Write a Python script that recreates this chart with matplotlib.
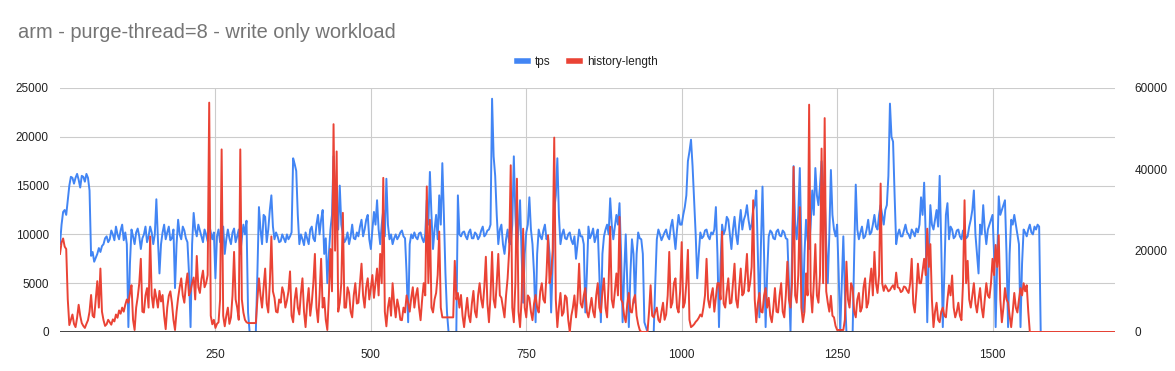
import numpy as np
import matplotlib
matplotlib.use("Agg")
from matplotlib import pyplot as plt
from matplotlib.lines import Line2D

plt.rcParams['font.family'] = ['Liberation Sans', 'DejaVu Sans']

title = "arm - purge-thread=8 - write only workload"
series_names = ["tps", "history-length"]
step = 2.5  # seconds between samples

tps = [
    9000, 11000, 12300, 12500, 12000, 13500, 15000, 15900, 15800, 15200, 15800, 16200, 15600, 14800, 16000, 15900, 15400, 16200, 15800, 14500,
    7800, 8200, 7200, 7600, 8000, 8600, 8200, 8800, 9000, 9600, 9800, 9200, 9500, 10400, 10000, 9400, 10800, 10000, 9500, 10400,
    11000, 9400, 10200, 9000, 500, 7000, 10500, 9800, 9000, 10200, 10600, 9800, 8500, 9600, 10000, 10800, 9200, 9800, 10800, 10200,
    9000, 10000, 13600, 9500, 6000, 9000, 10200, 11000, 9500, 10200, 10800, 9400, 9600, 10500, 4500, 9000, 11500, 10000, 9500, 10800,
    10400, 9600, 9200, 6000, 500, 9000, 12200, 10500, 9800, 11000, 10400, 9800, 9200, 10500, 10000, 9300, 11000, 10200, 9500, 10200,
    5500, 9800, 10500, 9200, 9500, 10800, 8000, 9500, 10500, 9600, 9000, 10200, 10600, 9200, 9800, 10500, 8000, 9600, 11000, 10000,
    11400, 2000, 0, 0, 0, 0, 0, 6000, 12800, 10500, 9000, 12000, 11800, 9200, 10500, 12500, 14000, 10800, 9500, 10200,
    9800, 9200, 9300, 10000, 9600, 9200, 10000, 9500, 9800, 10200, 17800, 17200, 16500, 12000, 9000, 10000, 9500, 8900, 10200, 9600,
    9000, 10500, 10800, 9600, 9300, 11000, 12000, 10000, 11500, 12500, 8000, 9600, 5000, 8000, 10500, 12000, 18000, 14000, 12000, 10500,
    15000, 11000, 10000, 9200, 9500, 10200, 9000, 9800, 11000, 9600, 9500, 10200, 9800, 10800, 11500, 9800, 10500, 11500, 12000, 9500,
    8500, 10500, 12300, 11000, 13500, 10500, 9000, 11000, 12500, 9800, 15700, 11000, 9500, 10000, 9000, 9600, 10000, 9500, 9800, 10200,
    10400, 9800, 9600, 6000, 1000, 9000, 10000, 9600, 10200, 9700, 9500, 10100, 10200, 9600, 9200, 10000, 13500, 11000, 16400, 12000,
    8500, 10500, 12000, 9500, 14000, 11000, 17300, 12000, 6000, 2000, 0, 0, 0, 0, 0, 0, 14000, 10000, 9800, 10200,
    10300, 9800, 9500, 10200, 10500, 9600, 9600, 10200, 10000, 9500, 9800, 10400, 10800, 9800, 10000, 10400, 10500, 11000, 23900, 18000,
    16000, 12000, 9000, 10500, 11000, 9000, 8000, 9500, 10500, 9200, 9000, 11000, 18000, 12000, 8500, 10500, 13500, 8000, 3000, 8000,
    10200, 11000, 13800, 10500, 9000, 6000, 1000, 8000, 10500, 9800, 9500, 10400, 11000, 9500, 9800, 8000, 2000, 7000, 12500, 14000,
    17800, 12000, 9000, 10000, 10500, 9600, 9500, 10000, 10200, 9400, 9000, 9800, 7500, 9000, 10500, 9800, 9800, 9000, 2000, 6000,
    10800, 9600, 10000, 10600, 9200, 9800, 10500, 6000, 1000, 8000, 9800, 10500, 11000, 10000, 13700, 11000, 9500, 10800, 12000, 11000,
    13200, 8000, 1000, 6000, 10000, 5000, 500, 6000, 9500, 8000, 3000, 8000, 10200, 9600, 9500, 8000, 1000, 500, 0, 0,
    0, 0, 0, 5000, 9500, 10500, 10000, 9400, 9800, 10200, 10500, 9800, 9500, 10800, 11500, 10000, 8500, 10500, 12000, 11000,
    11000, 12000, 12800, 14000, 17500, 18500, 19700, 17000, 13500, 10000, 5500, 8000, 10200, 9600, 9800, 10400, 10500, 9800, 9500, 10200,
    10000, 10500, 12800, 8000, 500, 7000, 11000, 10000, 10500, 11800, 11500, 10000, 8500, 10500, 11800, 10000, 9000, 11000, 12500, 10500,
    11500, 12000, 13000, 11500, 10500, 11000, 12500, 13000, 14500, 8000, 1500, 9000, 14900, 8000, 500, 6000, 9800, 10400, 10200, 9600,
    9500, 10300, 10500, 9900, 9800, 10400, 10200, 9600, 9500, 5000, 0, 8000, 17000, 11000, 9500, 12000, 16800, 9000, 2000, 8000,
    11500, 9500, 8500, 11000, 14500, 12000, 16800, 14000, 13000, 15000, 17500, 15000, 14000, 9000, 5000, 10000, 16600, 12000, 10500, 9800,
    11000, 6000, 0, 5000, 9800, 4000, 0, 0, 0, 0, 0, 8000, 15100, 10500, 9500, 10200, 10800, 9600, 9800, 10500,
    11500, 10000, 10200, 11000, 12000, 10800, 10500, 12000, 13000, 12000, 11000, 12500, 13000, 16000, 23400, 20000, 19500, 14000, 9000, 10000,
    10500, 9800, 9800, 10400, 11000, 10200, 10000, 9600, 10500, 10200, 9800, 10600, 10200, 11000, 13800, 12000, 15300, 10000, 1000, 8000,
    13000, 11000, 10500, 11500, 12500, 10800, 16000, 9000, 500, 6000, 12000, 13200, 9500, 10800, 10500, 9600, 9800, 10400, 10500, 9800,
    9500, 10400, 10200, 9600, 9800, 10800, 11500, 12500, 14500, 10000, 8000, 6000, 11000, 10000, 13000, 10500, 9000, 10500, 11000, 11500,
    12000, 8000, 500, 7000, 13900, 12000, 12500, 13000, 13500, 8000, 500, 8000, 11500, 11000, 12000, 11000, 10000, 9000, 500, 7000,
    10500, 10200, 9800, 10500, 11000, 10200, 10000, 10800, 10500, 11000, 10800, 0,
]

history_length = [
    19200, 22000, 23000, 21000, 20400, 8000, 1700, 3000, 4300, 2000, 1200, 3500, 6700, 4000, 2200, 1500, 1000, 2000, 2900, 5000,
    9100, 4000, 3600, 8000, 12500, 6000, 15600, 5000, 2900, 1500, 1900, 3000, 2400, 1800, 3100, 2600, 4300, 3500, 5300, 4500,
    6000, 5000, 6700, 8000, 7200, 9500, 11500, 3000, 500, 6000, 8600, 12000, 18000, 5000, 4800, 9000, 10800, 6000, 23500, 9000,
    6000, 10500, 8400, 6000, 10100, 7500, 9100, 4000, 700, 6000, 8900, 10000, 7200, 3000, 500, 5000, 8400, 11000, 13200, 9000,
    7200, 11500, 14400, 9000, 10100, 12000, 13400, 8000, 18700, 11000, 9600, 13000, 15100, 11000, 12000, 14000, 56400, 4000, 1900, 3000,
    1000, 2000, 2400, 8000, 44900, 4000, 1400, 4000, 6000, 2000, 3600, 9000, 19700, 8000, 6000, 3000, 44900, 8000, 4800, 3000,
    2400, 2200, 2200, 2200, 2200, 2200, 2200, 8000, 13200, 9000, 6000, 11000, 15600, 7000, 4800, 12000, 23500, 10000, 8400, 5000,
    4800, 8000, 7200, 11000, 9600, 6000, 7700, 10000, 14900, 4000, 2400, 8000, 10800, 6000, 4300, 9500, 13200, 5000, 1200, 7000,
    10800, 4000, 7200, 12000, 19200, 6000, 2400, 9000, 18000, 6000, 8400, 3000, 500, 9000, 20400, 10000, 51100, 20000, 44400, 5000,
    7200, 12000, 29300, 6000, 6000, 11000, 9600, 5000, 3600, 9000, 12000, 7000, 7200, 12000, 16800, 9000, 6000, 11000, 13200, 8000,
    10800, 14000, 8400, 12000, 15600, 9000, 19200, 12000, 37900, 5000, 1400, 6000, 8400, 4000, 12000, 7000, 3600, 8000, 6000, 3000,
    2900, 6000, 4800, 9000, 7200, 5000, 8400, 11000, 6000, 9000, 10800, 6000, 2900, 8000, 12000, 9000, 35800, 12000, 27600, 6000,
    4800, 8000, 9600, 14000, 24700, 6000, 3600, 3600, 3600, 3600, 3600, 3600, 3600, 3600, 17500, 8000, 9600, 6000, 9100, 4000,
    1200, 5000, 8400, 4000, 2400, 7000, 10100, 5000, 3600, 9000, 12000, 8000, 6000, 11000, 18500, 7000, 2400, 9000, 19700, 8000,
    6000, 12000, 19200, 9000, 8400, 6000, 3600, 9000, 13200, 20000, 41000, 6000, 2400, 12000, 37700, 5000, 1200, 8000, 25400, 6000,
    3600, 9000, 8400, 5000, 2900, 7000, 9100, 6000, 4800, 10000, 12000, 8000, 7200, 14000, 23800, 12000, 14400, 20000, 47800, 8000,
    1200, 6000, 9600, 4000, 4800, 9000, 8400, 3000, 0, 4000, 6000, 9000, 3600, 8000, 16800, 7000, 6000, 9000, 10800, 5000,
    3600, 6000, 8400, 5000, 3600, 9000, 12000, 6000, 4800, 10000, 13200, 6000, 3600, 12000, 25900, 8000, 6000, 10000, 14400, 9000,
    28300, 8000, 7200, 4000, 2400, 7000, 9600, 5000, 4800, 8000, 9100, 4000, 1900, 500, 0, 0, 0, 0, 0, 5000,
    11500, 4000, 3600, 5000, 6000, 3000, 2400, 5000, 7200, 3000, 4300, 9000, 19700, 6000, 7200, 12000, 13200, 6000, 4800, 10000,
    22100, 6000, 7200, 12000, 20200, 3000, 1200, 1500, 1900, 2500, 2900, 3500, 4300, 3800, 6000, 9000, 18000, 8000, 6000, 9000,
    10800, 5000, 8400, 12000, 12000, 8000, 24700, 7000, 6000, 10000, 13200, 7000, 7200, 12000, 16800, 8000, 6000, 11000, 15600, 9000,
    9600, 14000, 19200, 10000, 12000, 16000, 32400, 8000, 2400, 7000, 9600, 5000, 4800, 9000, 10800, 6000, 8400, 4000, 2400, 6000,
    10800, 5000, 4800, 9000, 12000, 5000, 3600, 9000, 17300, 8000, 6000, 12000, 40600, 9000, 7200, 14000, 30700, 6000, 2400, 5000,
    14400, 9000, 55900, 10000, 4800, 12000, 21600, 9000, 7200, 14000, 45100, 12000, 52600, 10000, 7200, 5000, 8900, 4000, 3600, 1500,
    500, 500, 500, 500, 500, 3000, 17300, 8000, 6000, 12000, 10800, 5000, 3600, 8000, 9600, 5000, 6000, 11000, 13200, 6000,
    7200, 12000, 15600, 9000, 19700, 12000, 9600, 14000, 36500, 12000, 10100, 11500, 10800, 10000, 10300, 11000, 11500, 10500, 14600, 11000,
    10800, 9800, 10100, 11200, 11000, 10200, 9600, 12000, 18000, 7000, 4800, 10000, 16800, 12000, 12000, 15000, 18000, 14000, 25400, 16000,
    21600, 8000, 1200, 5000, 7200, 3000, 2400, 5000, 6000, 4000, 3600, 8000, 11500, 9000, 13900, 6000, 3600, 5000, 7200, 4000,
    2900, 12000, 32400, 12000, 17500, 8000, 6000, 9000, 12000, 7000, 4800, 8000, 10800, 6000, 3600, 8000, 12000, 9000, 8400, 12000,
    18000, 14000, 21400, 16000, 23800, 8000, 2400, 6000, 10800, 8000, 7200, 4000, 1200, 5000, 9600, 6000, 4800, 8000, 10800, 9000,
    12000, 10000, 11500, 5000, 0, 0, 0, 0, 0, 0, 0, 0,
]

# both counters sit at zero after the run ends (1580 s .. 1700 s)
idle_tail = [
    0, 0, 0, 0, 0, 0, 0, 0, 0, 0, 0, 0, 0, 0, 0, 0, 0, 0, 0, 0,
    0, 0, 0, 0, 0, 0, 0, 0, 0, 0, 0, 0, 0, 0, 0, 0, 0, 0, 0, 0,
    0, 0, 0, 0, 0, 0, 0, 0, 0,
]

left_ticks = [0, 5000, 10000, 15000, 20000, 25000]
right_ticks = [0, 20000, 40000, 60000]
x_ticks = [250, 500, 750, 1000, 1250, 1500]

blue = "#4285F4"
red = "#EA4335"
grid_col = "#cccccc"
text_col = "#222222"

tps_all = tps + idle_tail
hist_all = history_length + idle_tail
assert len(tps_all) == len(hist_all) == 681, (len(tps_all), len(hist_all))
x = np.arange(len(tps_all)) * step

fig = plt.figure(figsize=(11.75, 3.71), dpi=100)
ax = fig.add_axes([60 / 1175, 39 / 371, 1055 / 1175, 244 / 371])
ax2 = ax.twinx()

ax.plot(x, tps_all, color=blue, lw=1.4, zorder=3)
ax2.plot(x, hist_all, color=red, lw=1.4, zorder=3)

ax.set_xlim(0, 1697)
ax.set_ylim(0, 25000)
ax2.set_ylim(0, 60000)
ax.set_xticks(x_ticks)
ax.set_xticklabels([str(t) for t in x_ticks])
ax.set_yticks(left_ticks)
ax.set_yticklabels([str(t) for t in left_ticks])
ax2.set_yticks(right_ticks)
ax2.set_yticklabels([str(t) for t in right_ticks])

ax.grid(True, color=grid_col, lw=0.8, zorder=0)
ax.set_axisbelow(True)
for a in (ax, ax2):
    for s in ("top", "left", "right", "bottom"):
        a.spines[s].set_visible(False)
    a.tick_params(length=0, labelsize=8.5, labelcolor=text_col)
ax.tick_params(axis="x", pad=12)
ax.tick_params(axis="y", pad=8)
ax2.tick_params(axis="y", pad=14)
ax.axhline(0, color="#333333", lw=1.3, zorder=5)

fig.text(18 / 1175, 1 - 32 / 371, title, fontsize=14.4, color="#757575",
         va="center", ha="left")

handles = [Line2D([], [], color=blue, lw=4),
           Line2D([], [], color=red, lw=4)]
fig.legend(handles, series_names, loc="center", bbox_to_anchor=(0.5, 1 - 62 / 371),
           ncol=2, frameon=False, fontsize=8.5, handlelength=0.9,
           handletextpad=0.6, columnspacing=1.6, labelcolor=text_col)

fig.savefig("out.png", dpi=100)
